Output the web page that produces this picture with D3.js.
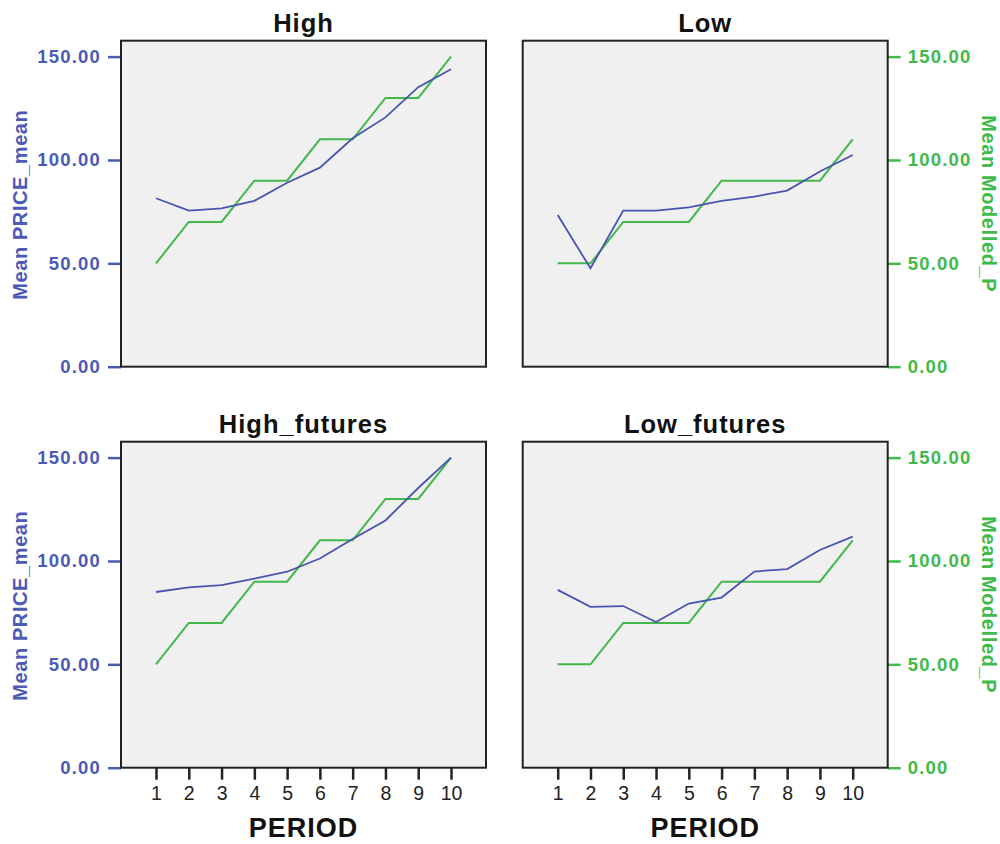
<!DOCTYPE html>
<html>
<head>
<meta charset="utf-8">
<script src="https://cdn.jsdelivr.net/npm/d3@7"></script>
<style>
  body { margin: 0; background: #ffffff; }
  svg { display: block; font-family: "Liberation Sans", Arial, sans-serif; }
</style>
</head>
<body>
<svg id="chart" width="1000" height="844"></svg>
<script>
// ---- data ----
const periods = [1, 2, 3, 4, 5, 6, 7, 8, 9, 10];
const panelTitles = ["High", "Low", "High_futures", "Low_futures"];
const priceHigh        = [81.5, 75.5, 76.6, 80.2, 89.0, 96.3, 110.5, 120.6, 135.2, 143.9];
const priceLow         = [73.4, 47.6, 75.5, 75.5, 77.1, 80.2, 82.3, 85.2, 94.4, 102.4];
const priceHighFutures = [85.0, 87.2, 88.3, 91.5, 94.8, 101.2, 110.6, 119.6, 135.3, 150.0];
const priceLowFutures  = [86.0, 77.8, 78.2, 70.5, 79.4, 82.3, 94.9, 96.1, 105.3, 111.8];
const modelHigh        = [50, 70, 70, 90, 90, 110, 110, 130, 130, 150];
const modelLow         = [50, 50, 70, 70, 70, 90, 90, 90, 90, 110];
const modelHighFutures = [50, 70, 70, 90, 90, 110, 110, 130, 130, 150];
const modelLowFutures  = [50, 50, 70, 70, 70, 90, 90, 90, 90, 110];
const yTicks = [0, 50, 100, 150];
const leftAxisTitle = "Mean PRICE_mean";
const rightAxisTitle = "Mean Modelled_P";
const xAxisTitle = "PERIOD";

const priceSeries = [priceHigh, priceLow, priceHighFutures, priceLowFutures];
const modelSeries = [modelHigh, modelLow, modelHighFutures, modelLowFutures];

// ---- styles ----
const BLUE = "#4b5bb5";
const GREEN = "#3fba4b";
const LINE_BLUE = "#4855b0";
const LINE_GREEN = "#42b84b";

const svg = d3.select("#chart");

const panels = [
  {x0: 121, x1: 486, y0: 40.7, y1: 366.7, left: true,  bottom: false, titleY: 32},
  {x0: 522.7, x1: 887.7, y0: 40.7, y1: 366.7, left: false, bottom: false, titleY: 32},
  {x0: 121, x1: 486, y0: 441.7, y1: 767.7, left: true,  bottom: true, titleY: 433},
  {x0: 522.7, x1: 887.7, y0: 441.7, y1: 767.7, left: false, bottom: true, titleY: 433}
];

panels.forEach((p, i) => {
  const x = d3.scaleLinear().domain([1, 10]).range([p.x0 + 35, p.x1 - 35]);
  const y = d3.scaleLinear().domain([0, 157.7]).range([p.y1, p.y0]);

  // background
  svg.append("rect")
    .attr("x", p.x0).attr("y", p.y0)
    .attr("width", p.x1 - p.x0).attr("height", p.y1 - p.y0)
    .attr("fill", "#f0f0f0");

  // title
  svg.append("text")
    .attr("x", (p.x0 + p.x1) / 2).attr("y", p.titleY)
    .attr("text-anchor", "middle")
    .attr("font-size", 25.5).attr("font-weight", "bold")
    .attr("letter-spacing", 1)
    .attr("fill", "#111")
    .text(panelTitles[i]);

  // y axis
  if (p.left) {
    const ax = svg.append("g")
      .attr("transform", `translate(${p.x0},0)`)
      .call(d3.axisLeft(y).tickValues(yTicks).tickSize(13).tickPadding(7)
        .tickFormat(d3.format(".2f")));
    ax.select(".domain").remove();
    ax.selectAll(".tick line").attr("stroke", BLUE).attr("stroke-width", 2.5);
    ax.selectAll(".tick text")
      .attr("fill", BLUE).attr("font-size", 18.5).attr("font-weight", "bold")
      .attr("letter-spacing", 1.2)
      .attr("font-family", "'Liberation Sans', Arial, sans-serif");
    svg.append("text")
      .attr("transform", `translate(27,${(p.y0 + p.y1) / 2 + 1})rotate(-90)`)
      .attr("text-anchor", "middle")
      .attr("font-size", 20).attr("font-weight", "bold")
      .attr("letter-spacing", 0.6)
      .attr("fill", BLUE)
      .text(leftAxisTitle);
  } else {
    const ax = svg.append("g")
      .attr("transform", `translate(${p.x1},0)`)
      .call(d3.axisRight(y).tickValues(yTicks).tickSize(13).tickPadding(7)
        .tickFormat(d3.format(".2f")));
    ax.select(".domain").remove();
    ax.selectAll(".tick line").attr("stroke", GREEN).attr("stroke-width", 2.5);
    ax.selectAll(".tick text")
      .attr("fill", GREEN).attr("font-size", 18.5).attr("font-weight", "bold")
      .attr("letter-spacing", 1.2)
      .attr("font-family", "'Liberation Sans', Arial, sans-serif");
    svg.append("text")
      .attr("transform", `translate(982,${(p.y0 + p.y1) / 2 + 0})rotate(90)`)
      .attr("text-anchor", "middle")
      .attr("font-size", 20).attr("font-weight", "bold")
      .attr("letter-spacing", 0.6)
      .attr("fill", GREEN)
      .text(rightAxisTitle);
  }

  // x axis
  if (p.bottom) {
    const ax = svg.append("g")
      .attr("transform", `translate(0,${p.y1})`)
      .call(d3.axisBottom(x).tickValues(periods).tickSize(12).tickPadding(6)
        .tickFormat(d3.format("d")));
    ax.select(".domain").remove();
    ax.selectAll(".tick line").attr("stroke", "#222").attr("stroke-width", 2.5);
    ax.selectAll(".tick text")
      .attr("fill", "#222").attr("font-size", 19.5)
      .attr("font-family", "'Liberation Sans', Arial, sans-serif");
    svg.append("text")
      .attr("x", (p.x0 + p.x1) / 2).attr("y", 837)
      .attr("text-anchor", "middle")
      .attr("font-size", 27).attr("font-weight", "bold")
      .attr("letter-spacing", 1)
      .attr("fill", "#111")
      .text(xAxisTitle);
  }

  const line = d3.line().x((d, j) => x(periods[j])).y(d => y(d));

  svg.append("path")
    .datum(modelSeries[i])
    .attr("d", line)
    .attr("fill", "none")
    .attr("stroke", LINE_GREEN)
    .attr("stroke-width", 2);

  svg.append("path")
    .datum(priceSeries[i])
    .attr("d", line)
    .attr("fill", "none")
    .attr("stroke", LINE_BLUE)
    .attr("stroke-width", 1.8);

  // border
  svg.append("rect")
    .attr("x", p.x0).attr("y", p.y0)
    .attr("width", p.x1 - p.x0).attr("height", p.y1 - p.y0)
    .attr("fill", "none")
    .attr("stroke", "#222").attr("stroke-width", 2);
});
</script>
</body>
</html>
